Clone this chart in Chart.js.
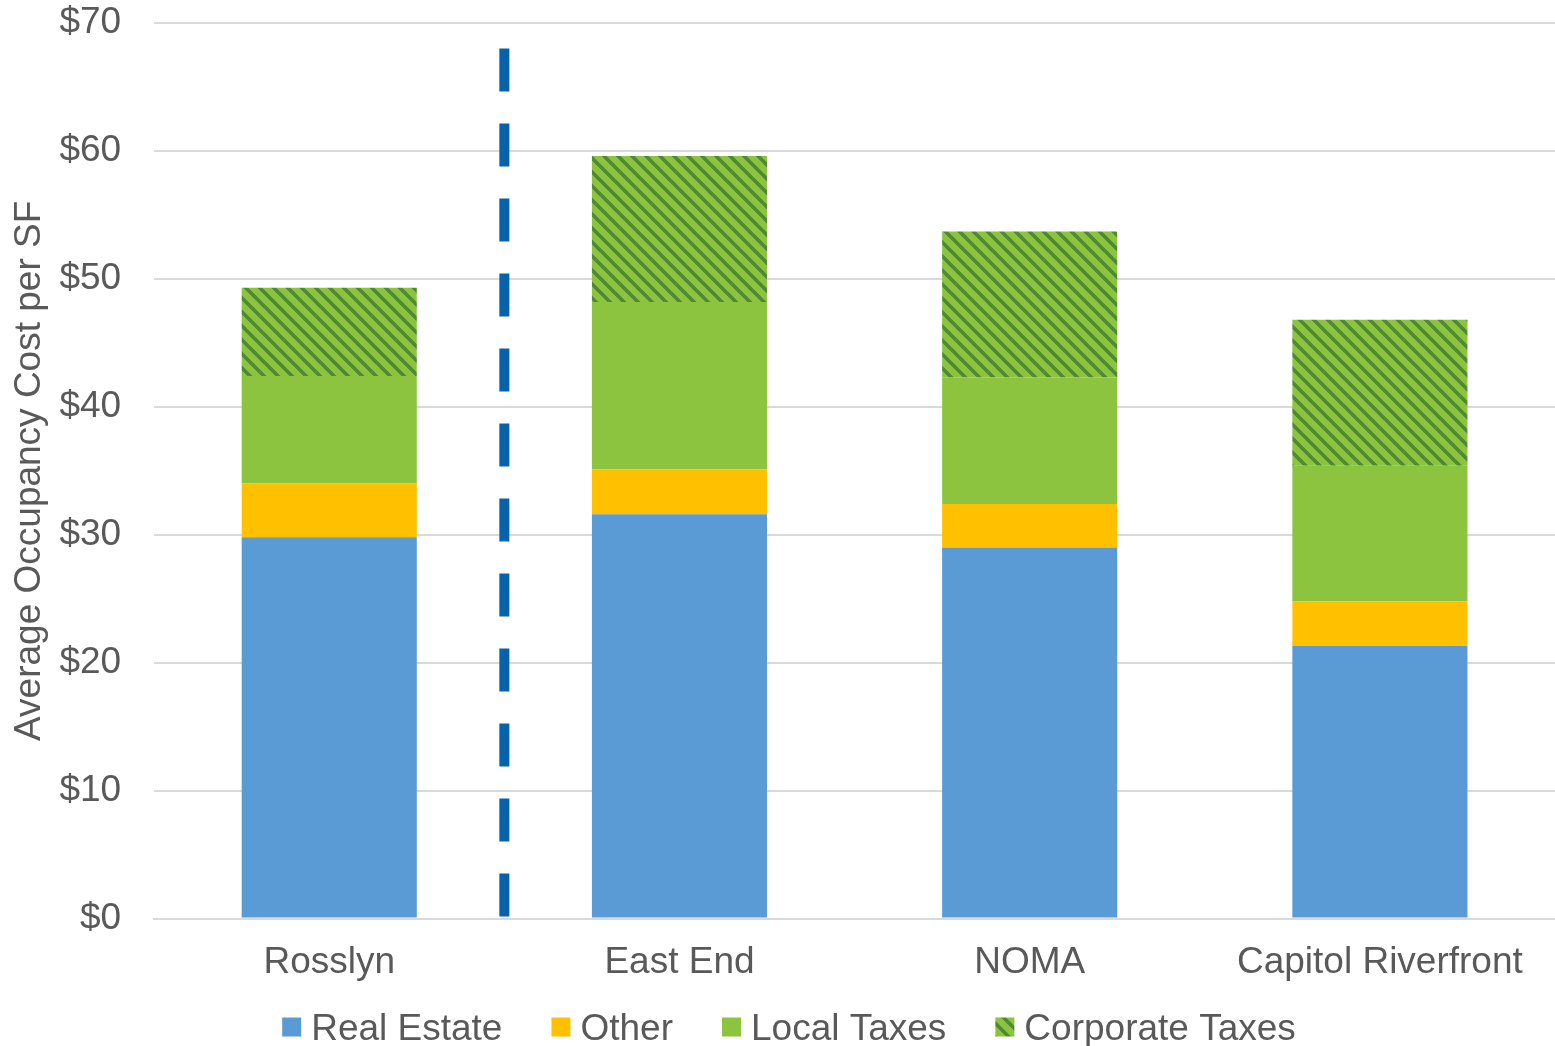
<!DOCTYPE html>
<html>
<head>
<meta charset="utf-8">
<script src="https://cdn.jsdelivr.net/npm/chart.js@4"></script>
<style>
  html, body { margin: 0; padding: 0; background: #fff; }
  #wrap { width: 1555px; height: 1046px; }
</style>
</head>
<body>
<div id="wrap"><canvas id="grafico"></canvas></div>
<script>
// dados
const categorias = ["Rosslyn", "East End", "NOMA", "Capitol Riverfront"];
const realEstate = [29.8, 31.6, 29.0, 21.3];
const outros = [4.2, 3.5, 3.4, 3.5];
const impostosLocais = [8.4, 13.1, 9.9, 10.6];
const impostosCorporativos = [6.9, 11.4, 11.4, 11.4];
const ticksY = [0, 10, 20, 30, 40, 50, 60, 70];

const fonte = { family: "'Liberation Sans', Arial, sans-serif", size: 37 };
const corTexto = "#595959";

// padrão listrado para os impostos corporativos
function criarListras() {
	const tam = 14;
	const c = document.createElement("canvas");
	c.width = tam;
	c.height = tam;
	const g = c.getContext("2d");
	g.fillStyle = "#8cc43f";
	g.fillRect(0, 0, tam, tam);
	g.strokeStyle = "#4f8a30";
	g.lineWidth = 3.6;
	g.beginPath();
	g.moveTo(-tam, 0); g.lineTo(tam, 2 * tam);
	g.moveTo(0, 0); g.lineTo(tam, tam);
	g.moveTo(0, -tam); g.lineTo(2 * tam, tam);
	g.stroke();
	return g.createPattern(c, "repeat");
}

// linha tracejada entre Rosslyn e East End
const linhaDivisoria = {
	id: "linhaDivisoria",
	afterDatasetsDraw(chart) {
		const x = chart.scales.x;
		const y = chart.scales.y;
		const px = (x.getPixelForValue(0) + x.getPixelForValue(1)) / 2;
		const ctx = chart.ctx;
		ctx.save();
		ctx.strokeStyle = "#0562ab";
		ctx.lineWidth = 10;
		ctx.setLineDash([43, 32]);
		ctx.beginPath();
		ctx.moveTo(px, y.getPixelForValue(68));
		ctx.lineTo(px, y.getPixelForValue(0));
		ctx.stroke();
		ctx.restore();
	}
};

// legenda desenhada à mão (caixa, espaço curto, texto)
const legendaPropria = {
	id: "legendaPropria",
	afterDraw(chart) {
		const ctx = chart.ctx;
		const caixa = 19, espaco = 10, entreItens = 49;
		ctx.save();
		ctx.font = fonte.size + "px " + fonte.family;
		ctx.textBaseline = "middle";
		const larguras = chart.data.datasets.map((d) => ctx.measureText(d.label).width);
		let total = 0;
		larguras.forEach((w) => (total += caixa + espaco + w));
		total += entreItens * (larguras.length - 1);
		let x = 789 - total / 2;
		const yCentro = 1030;
		chart.data.datasets.forEach((d, i) => {
			ctx.fillStyle = d.backgroundColor;
			ctx.fillRect(x, yCentro - caixa / 2 - 3, caixa, caixa);
			ctx.fillStyle = corTexto;
			ctx.fillText(d.label, x + caixa + espaco, yCentro);
			x += caixa + espaco + larguras[i] + entreItens;
		});
		ctx.restore();
	}
};

const ctx = document.getElementById("grafico").getContext("2d");
const grafico = new Chart(ctx, {
	type: "bar",
	data: {
		labels: categorias,
		datasets: [
			{ label: "Real Estate", data: realEstate, backgroundColor: "#5b9bd5" },
			{ label: "Other", data: outros, backgroundColor: "#ffc000" },
			{ label: "Local Taxes", data: impostosLocais, backgroundColor: "#8cc43f" },
			{ label: "Corporate Taxes", data: impostosCorporativos, backgroundColor: criarListras() },
		],
	},
	options: {
		responsive: true,
		maintainAspectRatio: false,
		animation: false,
		layout: { padding: { top: 23, right: -8, left: 8, bottom: 39 } },
		datasets: { bar: { barPercentage: 0.5, categoryPercentage: 1 } },
		scales: {
			x: {
				stacked: true,
				afterFit(eixo) {
					eixo.paddingLeft = 0;
					eixo.paddingRight = 0;
				},
				grid: { display: false, drawTicks: false },
				border: { color: "#d9d9d9", width: 2 },
				ticks: { color: corTexto, font: fonte, padding: 22 },
			},
			y: {
				stacked: true,
				min: 0,
				max: 70,
				afterBuildTicks(eixo) {
					eixo.ticks = ticksY.map((v) => ({ value: v }));
				},
				afterFit(eixo) {
					// o padding dos ticks não deve empurrar a área para baixo
					eixo.paddingTop = 0;
					eixo.paddingBottom = 0;
				},
				grid: { color: "#d9d9d9", lineWidth: 2, drawTicks: false },
				border: { display: false },
				ticks: {
					color: corTexto,
					font: fonte,
					padding: 33,
					callback: (v) => "$" + v,
				},
				title: {
					display: true,
					text: "Average Occupancy Cost per SF",
					color: corTexto,
					font: fonte,
					padding: { top: 0, bottom: -26 },
				},
			},
		},
		plugins: {
			legend: { display: false },
			tooltip: { enabled: false },
		},
	},
	plugins: [linhaDivisoria, legendaPropria],
});
</script>
</body>
</html>
